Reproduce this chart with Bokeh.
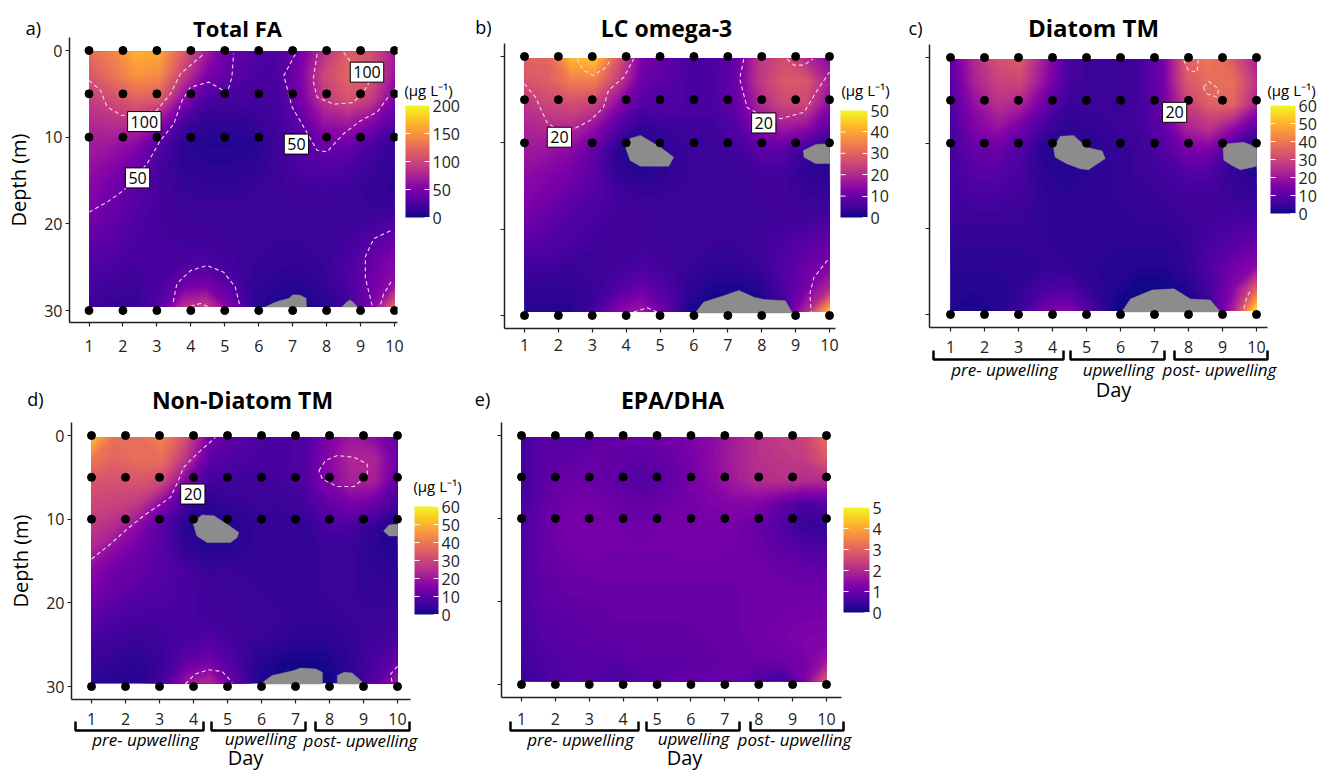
from bokeh.core.properties import value
from bokeh.embed import file_html
from bokeh.resources import INLINE
from bokeh.plotting import figure
from bokeh.models import Range1d, LinearColorMapper, ColorBar, FixedTicker, Label
from bokeh.palettes import Plasma256
import numpy as np

days = list(range(1, 11))
depths = [0, 5, 10, 30]
depth_ticks = [0, 10, 20, 30]
periods = ["pre- upwelling", "upwelling", "post- upwelling"]
unit_text = "(\u00b5g L\u207b\u00b9)"

# field values; rows run from the surface down, columns from day 1 to day 10
total_fa = [
    [125,140,165,160,115,70,35,30,25,45,85,115,105,70],
    [110,130,150,145,95,50,35,25,25,50,100,120,110,65],
    [95,105,120,115,60,25,22,22,22,45,90,110,95,50],
    [80,85,85,65,25,12,12,15,20,35,65,70,55,30],
    [70,65,55,30,10,6,6,8,18,30,42,40,25,14],
    [62,52,40,22,12,10,10,12,18,25,28,25,18,12],
    [55,42,32,22,16,14,14,16,18,20,20,18,14,12],
    [48,38,28,22,18,18,18,18,18,18,18,16,16,20],
    [38,32,25,22,20,20,18,18,16,16,16,20,28,38],
    [30,26,22,22,24,24,20,16,14,14,16,24,38,52],
    [22,20,18,24,40,44,28,14,10,8,14,24,42,62],
    [16,14,14,30,85,95,50,10,4,4,8,18,48,125],
]
lc_omega3 = [
    [30,30,42,44,28,12,9,6,6,9,22,26,20,14],
    [27,29,34,34,23,10,8,6,6,10,22,28,28,18],
    [22,25,26,24,14,7,7,6,6,9,19,25,25,14],
    [19,20,20,15,7,3,4,5,5,7,14,17,15,8],
    [17,16,14,9,2,1,3,4,4,5,8,8,4,1],
    [15,13,11,8,3,2,3,4,4,4,5,5,3,2],
    [13,11,9,7,5,4,4,4,4,4,5,5,4,4],
    [11,9,7,6,5,5,4,4,4,4,4,5,5,6],
    [8,7,6,5,5,5,4,4,4,4,5,6,8,9],
    [5,5,4,4,5,6,5,4,3,3,4,7,10,13],
    [3,3,3,4,7,10,7,3,1,1,2,6,12,20],
    [2,2,2,6,14,17,10,1,0,0,0,4,20,44],
]
diatom_tm = [
    [10,24,32,34,20,7,5,5,6,13,35,40,34,22],
    [9,22,29,30,18,7,5,5,6,13,33,38,38,26],
    [8,18,25,22,12,5,5,5,6,12,28,35,36,22],
    [7,15,19,13,6,3,4,5,6,10,22,26,18,9],
    [6,11,12,8,2,2,3,4,5,8,14,14,5,1],
    [6,9,9,7,3,2,3,4,5,6,8,8,4,2],
    [6,7,7,6,4,3,3,4,4,5,6,6,5,4],
    [5,5,5,5,4,3,3,3,4,4,5,6,7,7],
    [4,4,4,4,4,3,3,3,3,3,4,7,9,11],
    [3,3,3,3,4,4,3,2,2,2,4,8,13,17],
    [2,2,2,4,7,8,4,2,0,0,2,7,16,35],
    [2,1,2,6,13,16,8,0,0,0,0,3,22,58],
]
non_diatom_tm = [
    [52,38,38,42,32,14,10,8,7,8,14,20,17,11],
    [40,36,38,38,26,10,8,7,7,8,16,23,23,12],
    [33,32,33,30,15,6,6,6,6,8,15,22,22,10],
    [30,29,27,16,6,3,4,5,5,6,11,14,12,6],
    [27,24,17,9,2,1,2,4,4,4,7,7,4,1],
    [23,17,13,9,4,2,3,4,4,4,5,5,3,2],
    [17,13,11,9,7,5,5,4,4,4,5,5,4,3],
    [14,11,9,8,7,6,5,5,4,4,5,5,4,4],
    [10,8,7,7,7,6,6,5,5,4,4,5,5,6],
    [7,6,5,6,7,8,6,5,4,3,3,4,6,7],
    [5,4,3,5,10,13,8,3,1,1,1,4,7,11],
    [3,2,2,7,20,24,12,2,0,0,0,3,9,20],
]
epa_dha = [
    [.5,.85,.7,.8,.95,1.0,1.05,1.2,1.4,1.7,2.1,2.3,2.4,3.1],
    [.5,.85,.85,.95,.9,.8,.9,1.1,1.4,1.8,2.1,2.2,2.3,2.8],
    [.5,.85,1,1,.85,.7,.8,1.05,1.35,1.7,2.0,2.1,2.0,2.0],
    [.55,.9,1.1,1.1,1,.9,1,1.1,1.25,1.35,1.3,.95,.6,.75],
    [.6,.95,1.15,1.15,1.1,1.05,1.1,1.15,1.15,1.15,1.0,.7,.4,.35],
    [.65,.95,1.1,1.15,1.1,1.1,1.1,1.15,1.15,1.1,1.0,.85,.7,.6],
    [.65,.9,1,1.05,1.05,1.05,1.05,1.05,1.05,1.05,1.05,1,.95,.9],
    [.65,.85,.95,.95,1,1,1,1,1,1,1.05,1.05,1.05,1.05],
    [.6,.8,.85,.9,.95,.95,.95,.95,.95,1,1.05,1.1,1.15,1.15],
    [.55,.75,.8,.85,.9,.9,.9,.9,.95,1,1.05,1.15,1.25,1.3],
    [.45,.65,.75,.75,.75,.85,.85,.85,.9,.95,1,1.05,1.15,1.6],
    [.4,.6,.7,.7,.55,.7,.85,.9,.95,.95,.75,.4,1.1,2.9],
]

# dashed contour lines: (days, depths)
contours_a = [
    ([1,1.53,2.02,2.71,3.1,3.5,3.74,3.99,4.53,4.87,5.07,5.21,5.26],[18.65,17.5,16.15,13.08,10.4,8.46,5.77,4.23,3.65,4.42,4.92,3.08,.38]),
    ([1,1.34,1.53,1.97,2.32,3.0,3.4,3.69,4.38],[3.46,4.6,6.5,7.5,7.3,6.9,5,2.7,.4]),
    ([7.08,6.74,6.98,7.38,7.72,8.01,8.5,9,9.49,10],[.4,2.9,6.5,9.2,11.5,11.7,9.6,8.1,7.1,4.4]),
    ([7.72,7.6,7.72,8.21,8.8,9.19,9.25],[.4,3.46,5.4,6.2,6,4.2,3.6]),
    ([8.5,8.75],[.2,1.5]),
    ([3.48,3.59,3.99,4.48,4.97,5.31,5.44],[29,26.9,25.4,24.8,25.6,27.3,29.4]),
    ([3.99,4.28,4.53],[29.5,29.2,29.6]),
    ([9.88,9.39,9.14,9.14,9.34],[20.8,21.7,23.8,26.2,29.4]),
    ([9.9,9.68,9.58],[26.7,28.1,29.4]),
]
contours_b = [
    ([1,1.32,1.66,2.05,2.45,2.94,3.33,3.48,3.93,4.22],[3.17,4.7,7.6,8.76,8.4,7.4,5.9,3.9,2.4,.3]),
    ([2.55,2.74,3.04,3.43,3.53],[.3,1.6,2.2,1.2,.3]),
    ([7.47,7.35,7.57,7.97,8.56,9.25,9.64,10],[.3,2.6,5.9,6.8,7.2,6.45,3.9,1.8]),
    ([8.75,8.95,9.25,9.5],[.3,1,1,.3]),
    ([4.22,4.62,4.91],[29.6,29.1,29.6]),
    ([9.94,9.54,9.42,9.46],[23.6,25.6,27.5,29.6]),
]
contours_c = [
    ([7.86,8.0,8.25,8.29,8.1],[.35,1.5,1.7,.35,.05]),
    ([8.43,8.55,8.84,8.89,8.6,8.43],[3.5,4.25,4.6,3.7,2.8,3.5]),
    ([9.63,9.72,9.85],[29.3,27.9,27.1]),
]
contours_d = [
    ([1,1.55,2.04,2.53,3.32,3.51,3.71,4.1,4.64],[14.76,13,11.2,9.6,7.4,5.8,3.8,2.2,.25]),
    ([7.69,7.88,8.23,8.72,9.11,9.11,8.72,8.23,7.79,7.69],[4.2,3,2.4,2.6,3.4,4.8,6.1,6.1,5.2,4.2]),
    ([3.76,4.05,4.45,4.84,5.14],[29.7,28.5,28,28.2,29.5]),
    ([10,9.8,9.85],[27.6,28.5,29.7]),
]
contours_e = []

# contour value boxes: (text, day, depth)
boxes_a = [("100",2.63,8.2),("50",2.43,14.7),("50",7.11,10.8),("100",9.19,2.5)]
boxes_b = [("20",2.03,9.35),("20",8.06,7.7)]
boxes_c = [("20",7.59,6.4)]
boxes_d = [("20",3.98,7.0)]
boxes_e = []

# grey no-data blobs: (days, depths)
grey_a = [
    ([6.2,6.4,6.6,6.9,7.0,7.2,7.4,7.4],[29.6,29.2,28.9,28.6,28.2,28.2,28.6,29.6]),
    ([8.45,8.6,8.7,8.85,8.9],[29.6,29,28.8,29.3,29.6]),
]
grey_b = [
    ([3.98,4.12,4.42,4.66,5.01,5.4,5.26,4.42,4.12],[10.5,9.5,9.15,9.7,10.5,11.66,12.7,12.7,12.05]),
    ([9.23,9.59,10,10,9.59,9.25],[10.9,10.2,10.1,12.4,12.4,11.66]),
    ([6.04,6.29,6.88,7.33,7.77,8.06,8.7,8.9],[29.7,28.45,27.7,27.1,27.9,28.15,28.3,29.7]),
]
grey_c = [
    ([4.03,4.23,4.62,5.01,5.46,5.55,5.06,4.82,4.42,4.08],[10.5,9.2,9.1,10.5,10.9,11.8,13.1,13,12.4,11.65]),
    ([9.02,9.09,9.63,10,10,9.53,9.28,9.04],[10.7,10.1,9.9,10.5,12.7,13.1,12.6,12]),
    ([6.04,6.29,6.93,7.57,8.06,8.64,8.94],[29.7,28.2,27.15,27,28.2,28.3,29.7]),
]
grey_d = [
    ([3.98,4.25,4.6,4.99,5.33,5.28,5.09,4.4,4.1],[10.4,9.5,9.6,10.6,11.6,12.2,12.8,12.8,12]),
    ([9.59,9.75,10,10,9.75],[11.4,10.7,10.6,12,12]),
    ([6.04,6.31,6.95,7.15,7.59,7.79,7.79,6.04],[29.5,28.7,28.1,27.8,27.9,28.3,29.7,29.7]),
    ([8.23,8.23,8.43,8.67,8.97,8.97],[29.7,28.7,28.3,28.4,29.5,29.7]),
]
grey_e = []

FONT = "Open Sans"
DARK = "#222222"
N_BANDS = 64
PAGE_W, PAGE_H = 1323, 770

# a transparent figure over the whole page, in page pixels, for everything outside the panels' frames
over = figure(width=PAGE_W, height=PAGE_H, output_backend="svg", toolbar_location=None,
              x_range=Range1d(0, PAGE_W), y_range=Range1d(PAGE_H, 0),
              x_axis_location=None, y_axis_location=None, min_border=0,
              background_fill_color=None, border_fill_color=None,
              styles={"position": "absolute", "left": "0px", "top": "0px"})
over.outline_line_color = None
over.grid.visible = False


def put_text(txt, xy, size, style="normal"):
    over.text([xy[0]], [xy[1]], text=[txt], text_font=value(FONT), text_font_size=f"{size}px",
              text_font_style=style, text_color="black", text_align="center", text_baseline="middle")


def make_panel(ox, oy, w, bottom_edge, ax, dx, dy, heat_y, field, high, ticks, title, title_xy, title_size,
               letter, letter_xy, contours, boxes, grey, bar, unit_xy=None, ylabels=False, standoff=10,
               brackets=None, period_xy=None, day_xy=None):
    left, right, top, bottom = ax
    per_x = 9 / (dx[1] - dx[0])
    per_y = 30 / (dy[1] - dy[0])

    put_text(title, title_xy, title_size, "bold")
    put_text(letter, letter_xy, 18)

    p = figure(width=w, height=bottom_edge - oy, output_backend="svg", toolbar_location=None,
               min_border_left=left - ox, min_border_right=ox + w - right,
               min_border_top=top - oy, min_border_bottom=bottom_edge - bottom,
               x_range=Range1d(1 - (dx[0] - left) * per_x, 10 + (right - dx[1]) * per_x),
               y_range=Range1d(30 + (bottom - dy[1]) * per_y, -(dy[0] - top) * per_y),
               styles={"position": "absolute", "left": f"{ox}px", "top": f"{oy}px"})
    p.outline_line_color = None
    p.grid.visible = False
    mapper = LinearColorMapper(palette=Plasma256, low=0, high=high)

    # stacked filled contours of the grid of read values (bokeh's own contour renderer)
    grid = np.array(field, dtype=float)
    nr, nc = grid.shape
    gx, gy = np.meshgrid(np.linspace(1, 10, nc), np.linspace(heat_y[0], heat_y[1], nr))
    levels = np.linspace(0, high, N_BANDS + 1)
    for i in range(N_BANDS):
        lo = levels[i] if i > 0 else -1.0
        if grid.max() <= lo:
            continue
        colour = Plasma256[int((i + 0.5) * 256 / N_BANDS)]
        p.contour(gx, gy, grid, [lo, high * 2.0], fill_color=[colour], line_color=None)

    for ga, gb in grey:
        p.patch(ga, gb, fill_color="#8c8c8c", line_color="#8c8c8c", line_width=0.5)
    if contours:
        p.multi_line([c[0] for c in contours], [c[1] for c in contours], line_color="#f3d6f2",
                     line_width=1.1, line_dash="4 3")
    xs = [d for _ in depths for d in days]
    ys = [z for z in depths for _ in days]
    p.scatter(xs, ys, size=8, color="black")

    for txt, bx, bz in boxes:
        p.add_layout(Label(x=bx, y=bz, text=txt, text_font=FONT, text_font_size="16px", text_color="black",
                           text_align="center", text_baseline="middle", background_fill_color="white",
                           border_line_color="black", border_line_width=1, padding=(3, 4)))

    # axes
    p.xaxis.ticker = FixedTicker(ticks=days)
    p.yaxis.ticker = FixedTicker(ticks=depth_ticks)
    for axis in (p.xaxis[0], p.yaxis[0]):
        axis.axis_line_color = DARK
        axis.axis_line_width = 1.5
        axis.major_tick_line_color = DARK
        axis.major_tick_line_width = 1.2
        axis.major_tick_out = 4
        axis.major_tick_in = 0
        axis.minor_tick_line_color = None
        axis.major_label_text_font = FONT
        axis.major_label_text_font_size = "16px"
        axis.major_label_text_color = "#222222"
    p.xaxis.major_label_standoff = standoff
    p.yaxis.major_label_standoff = 3
    if ylabels:
        p.yaxis.axis_label = "Depth (m)"
        p.yaxis.axis_label_text_font = FONT
        p.yaxis.axis_label_text_font_size = "20px"
        p.yaxis.axis_label_text_font_style = "normal"
        p.yaxis.axis_label_text_color = "black"
        p.yaxis.axis_label_standoff = 9
    else:
        p.yaxis.major_label_overrides = {t: "" for t in depth_ticks}

    # colour bar
    bx0, bx1, by0, by1 = bar
    cb = ColorBar(color_mapper=mapper, ticker=FixedTicker(ticks=ticks), width=bx1 - bx0, height=by1 - by0,
                  location=(bx0 - left, bottom - by1), padding=0, margin=0,
                  major_tick_line_color="#fff6ee", major_tick_in=5, major_tick_out=0,
                  minor_tick_line_color=None, bar_line_color=None, major_label_text_font=FONT,
                  major_label_text_font_size="16px", major_label_text_color="#222222",
                  label_standoff=3)
    p.add_layout(cb)
    inner = [t for t in ticks if 0 < t < high]
    tick_y = [by1 - t / high * (by1 - by0) for t in inner]
    over.segment([bx0] * len(inner), tick_y, [bx0 + 5] * len(inner), tick_y, line_color="#fff6ee", line_width=1)
    if unit_xy:
        put_text(unit_text, unit_xy, 15)

    if brackets:
        y0, y1 = brackets[0]
        for x0, x1 in brackets[1]:
            over.line([x0, x0, x1, x1], [y0, y1, y1, y0], line_color="black", line_width=2.5)
        for txt, xy in zip(periods, period_xy):
            put_text(txt, xy, 17, "italic")
        put_text("Day", day_xy, 20)
    return p


a = make_panel(0, 0, 465, 380, (69, 397, 37, 322), (88.5, 394), (50, 310), (0.15, 29.6), total_fa, 200,
               [0, 50, 100, 150, 200], "Total FA", (237, 27), 22, "a)", (33, 27), contours_a, boxes_a, grey_a,
               (405, 429, 105, 217), unit_xy=(428, 89), ylabels=True, standoff=13)
b = make_panel(465, 0, 430, 380, (504, 835, 43, 328), (524, 829), (56, 315), (0.2, 29.6), lc_omega3, 50,
               [0, 10, 20, 30, 40, 50], "LC omega-3", (666, 27), 23, "b)", (483, 26), contours_b, boxes_b, grey_b,
               (840, 867, 110, 217), unit_xy=(865, 89), standoff=6)
c = make_panel(895, 0, 428, 365, (929, 1267, 44, 327), (950, 1256), (57, 314), (0.2, 29.6), diatom_tm, 60,
               [0, 10, 20, 30, 40, 50, 60], "Diatom TM", (1093, 27), 24, "c)", (915, 27), contours_c, boxes_c, grey_c,
               (1270, 1295, 105, 213), unit_xy=(1291, 89), standoff=9,
               brackets=((350, 359), [(933, 1063), (1070, 1164), (1174, 1267)]),
               period_xy=[(1004, 369), (1118, 369), (1219, 369)], day_xy=(1113, 389))
d = make_panel(0, 380, 465, 740, (71, 410, 422, 699), (91, 397), (435, 686), (0.2, 29.6), non_diatom_tm, 60,
               [0, 10, 20, 30, 40, 50, 60], "Non-Diatom TM", (242, 399), 23, "d)", (35, 398), contours_d, boxes_d, grey_d,
               (414, 438, 506, 614), unit_xy=(437, 485), ylabels=True, standoff=9,
               brackets=((721, 730), [(75, 203), (211, 305), (315, 409)]),
               period_xy=[(145, 739), (260, 738), (360, 740)], day_xy=(245, 757))
e = make_panel(465, 380, 430, 740, (501, 841, 422, 697), (521, 826), (435, 684), (0.2, 29.6), epa_dha, 5,
               [0, 1, 2, 3, 4, 5], "EPA/DHA", (672, 399), 23, "e)", (482, 398), contours_e, boxes_e, grey_e,
               (843, 869, 507, 612), standoff=11,
               brackets=((721, 730), [(510, 638), (646, 739), (750, 843)]),
               period_xy=[(580, 739), (693, 738), (794, 739)], day_xy=(684, 757))

open("out.html", "w").write(file_html([a, b, c, d, e, over], INLINE))
